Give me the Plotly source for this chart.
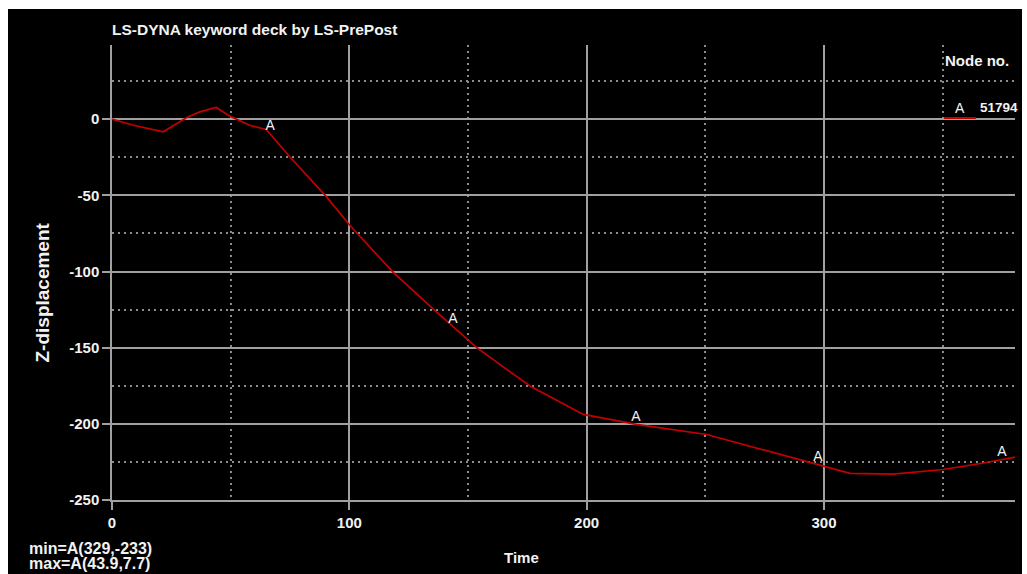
import numpy as np
import plotly.graph_objects as go

# Nodal Z-displacement history for node 51794 (curve "A")
time = [0, 9, 21.6, 31.5, 37, 43.9, 49.7, 58, 65, 75, 90.5, 100.3, 118.5,
        135.4, 153.7, 176.1, 198.6, 221, 250.6, 268.9, 297, 311, 329, 350.3,
        367.2, 380.5]
z_disp = [0, -4, -8.3, 1.1, 4.8, 7.7, 2, -4, -6.8, -24.8, -51.2, -69.8, -100.6,
          -124.7, -150, -175.2, -193.8, -200.4, -207, -214.7, -226.7, -232.5,
          -233, -230, -225.7, -221.9]
# times at which the curve identifier letter is stamped along the line
label_times = [66.6, 143.7, 220.8, 297.5, 375]
x_ticks = [0, 100, 200, 300]
y_ticks = [0, -50, -100, -150, -200, -250]
curve_id = "A"
node_id = "51794"

W, H = 1027, 574
PLOT_L, PLOT_R, PLOT_T, PLOT_B = 112, 1015, 45, 500


def px(xp):
    return (xp - PLOT_L) / (PLOT_R - PLOT_L)


def py(yp):
    return (PLOT_B - yp) / (PLOT_B - PLOT_T)


FONT = "Liberation Sans, Arial"
WHITE = "#f2f2f2"
GRID = "#a0a0a0"
GRID_DOT = "#8c8c8c"
RED = "#c40000"

i_min = int(np.argmin(z_disp))
i_max = int(np.argmax(z_disp))
min_text = f"min={curve_id}({time[i_min]:g},{z_disp[i_min]:g})"
max_text = f"max={curve_id}({time[i_max]:g},{z_disp[i_max]:g})"

fig = go.Figure()
fig.add_trace(go.Scatter(x=time, y=z_disp, mode="lines",
                         line=dict(color=RED, width=1.7),
                         hoverinfo="x+y", showlegend=False))
fig.add_trace(go.Scatter(x=label_times,
                         y=np.interp(label_times, time, z_disp),
                         mode="text", text=[curve_id] * len(label_times),
                         textposition="top center",
                         textfont=dict(family=FONT, size=14, color=WHITE),
                         hoverinfo="skip", showlegend=False))

axis_common = dict(
    showgrid=True, gridcolor=GRID, gridwidth=1.5,
    showline=True, linecolor=GRID, linewidth=1.5,
    ticks="outside", ticklen=8, tickcolor=GRID, tickwidth=1.5,
    zeroline=False,
    tickfont=dict(family=FONT, size=15, color=WHITE, weight="bold"),
)

fig.update_xaxes(range=[0, 380.5], tickmode="array", tickvals=x_ticks,
                 ticktext=[str(v) for v in x_ticks],
                 minor=dict(dtick=50, tick0=0, showgrid=True, griddash="2px,4px",
                            gridcolor=GRID_DOT, gridwidth=1.5, ticks=""),
                 **axis_common)
fig.update_yaxes(range=[-250, 48.7], tickmode="array", tickvals=y_ticks,
                 ticktext=[str(v) for v in y_ticks],
                 minor=dict(dtick=25, tick0=0, showgrid=True, griddash="2px,4px",
                            gridcolor=GRID_DOT, gridwidth=1.5, ticks=""),
                 **axis_common)

shapes = [
    # black panel behind the whole chart
    dict(type="rect", xref="paper", yref="paper", layer="below",
         x0=px(8), x1=px(1022), y0=py(574), y1=py(9),
         fillcolor="black", line=dict(width=0)),
    # legend line sample
    dict(type="line", xref="paper", yref="paper",
         x0=px(944), x1=px(976), y0=py(118), y1=py(118),
         line=dict(color=RED, width=2)),
]


def note(text, x, y, size=15, xanchor="center", yanchor="middle", bold=True,
         angle=0):
    return dict(text=text, xref="paper", yref="paper", x=px(x), y=py(y),
                xanchor=xanchor, yanchor=yanchor, showarrow=False,
                textangle=angle,
                font=dict(family=FONT, size=size, color=WHITE,
                          weight="bold" if bold else "normal"))


annotations = [
    note("LS-DYNA keyword deck by LS-PrePost", 110, 30, size=15.5, xanchor="left"),
    note("Node no.", 977, 60, size=15),
    note(curve_id, 960, 108, size=14, bold=False),
    note(node_id, 978, 108, size=13.5, xanchor="left"),
    note("Z-displacement", 41.5, 293, size=19, angle=-90),
    note("Time", 521, 557, size=15),
    note(min_text, 27, 548, size=16, xanchor="left"),
    note(max_text, 27, 563, size=16, xanchor="left"),
]

fig.update_layout(
    width=W, height=H, autosize=False,
    margin=dict(l=PLOT_L, r=W - PLOT_R, t=PLOT_T, b=H - PLOT_B, pad=0),
    paper_bgcolor="white", plot_bgcolor="black",
    shapes=shapes, annotations=annotations,
    font=dict(family=FONT, color=WHITE),
)

fig.write_html("out.html")
